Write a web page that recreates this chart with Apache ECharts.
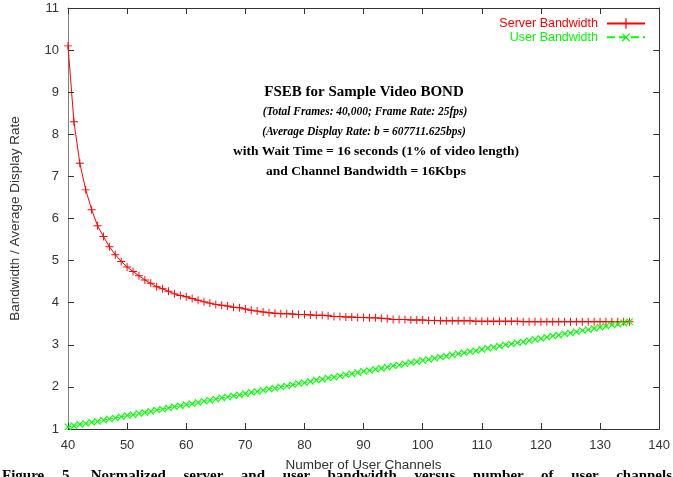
<!DOCTYPE html>
<html>
<head>
<meta charset="utf-8">
<script src="https://cdn.jsdelivr.net/npm/echarts@6/dist/echarts.min.js"></script>
<style>
  html, body { margin: 0; padding: 0; background: #fff; overflow: hidden; }
  #wrap { position: relative; width: 673px; height: 477px; overflow: hidden; }
  #chart { width: 673px; height: 477px; }
  #caption {
    position: absolute; left: 2px; top: 468px; width: 670px;
    font: bold 15px "Liberation Serif", serif; line-height: 15px;
    text-align: justify; text-align-last: justify; white-space: nowrap;
    color: #000;
  }
</style>
</head>
<body>
<div id="wrap">
  <div id="chart"></div>
  <div id="caption">Figure 5. Normalized server and user bandwidth versus number of user channels</div>
</div>
<script>
// number of user channels (x)
const channels = [40, 41, 42, 43, 44, 45, 46, 47, 48, 49, 50, 51, 52, 53, 54, 55, 56, 57, 58, 59,
  60, 61, 62, 63, 64, 65, 66, 67, 68, 69, 70, 71, 72, 73, 74, 75, 76, 77, 78, 79,
  80, 81, 82, 83, 84, 85, 86, 87, 88, 89, 90, 91, 92, 93, 94, 95, 96, 97, 98, 99,
  100, 101, 102, 103, 104, 105, 106, 107, 108, 109, 110, 111, 112, 113, 114, 115, 116, 117, 118, 119,
  120, 121, 122, 123, 124, 125, 126, 127, 128, 129, 130, 131, 132, 133, 134, 135];

// bandwidth / average display rate
const serverBw = [10.10, 8.30, 7.31, 6.68, 6.21, 5.83, 5.57, 5.33, 5.14, 4.98,
  4.85, 4.74, 4.64, 4.54, 4.46, 4.38, 4.33, 4.27, 4.21, 4.17,
  4.14, 4.10, 4.06, 4.02, 3.99, 3.96, 3.94, 3.92, 3.89, 3.88,
  3.85, 3.82, 3.80, 3.78, 3.76, 3.75, 3.74, 3.74, 3.73, 3.72,
  3.72, 3.71, 3.70, 3.70, 3.69, 3.67, 3.67, 3.66, 3.66, 3.65,
  3.65, 3.64, 3.64, 3.63, 3.62, 3.60, 3.60, 3.60, 3.59, 3.59,
  3.59, 3.58, 3.58, 3.57, 3.57, 3.57, 3.57, 3.57, 3.57, 3.56,
  3.56, 3.56, 3.56, 3.56, 3.56, 3.56, 3.56, 3.55, 3.55, 3.55,
  3.55, 3.55, 3.55, 3.55, 3.55, 3.55, 3.55, 3.55, 3.55, 3.55,
  3.55, 3.55, 3.55, 3.55, 3.55, 3.55];

const userBw = [1.05, 1.08, 1.11, 1.13, 1.16, 1.18, 1.21, 1.24, 1.26, 1.29,
  1.32, 1.34, 1.37, 1.39, 1.42, 1.45, 1.47, 1.50, 1.53, 1.55,
  1.58, 1.60, 1.63, 1.66, 1.68, 1.71, 1.74, 1.76, 1.79, 1.81,
  1.84, 1.87, 1.89, 1.92, 1.95, 1.97, 2.00, 2.02, 2.05, 2.08,
  2.10, 2.13, 2.16, 2.18, 2.21, 2.23, 2.26, 2.29, 2.31, 2.34,
  2.37, 2.39, 2.42, 2.44, 2.47, 2.50, 2.52, 2.55, 2.58, 2.60,
  2.63, 2.65, 2.68, 2.71, 2.73, 2.76, 2.79, 2.81, 2.84, 2.86,
  2.89, 2.92, 2.94, 2.97, 3.00, 3.02, 3.05, 3.07, 3.10, 3.13,
  3.15, 3.18, 3.21, 3.23, 3.26, 3.28, 3.31, 3.34, 3.36, 3.39,
  3.42, 3.44, 3.47, 3.49, 3.52, 3.55];

const seriesNames = ['Server Bandwidth', 'User Bandwidth'];

const titleLines = [
  'FSEB for Sample Video BOND',
  '(Total Frames: 40,000; Frame Rate: 25fps)',
  '(Average Display Rate: b = 607711.625bps)',
  'with Wait Time = 16 seconds (1% of video length)',
  'and Channel Bandwidth = 16Kbps'
];

const plus = 'path://M4.4,0h1.2v4.4h4.4v1.2h-4.4v4.4h-1.2v-4.4h-4.4v-1.2h4.4z';
const axisFont = { fontFamily: 'Liberation Sans', fontSize: 13, color: '#333' };

const chart = echarts.init(document.getElementById('chart'));

function frameAxis(pos, min, max, interval, withLabels, lineColor) {
  return {
    type: 'value', position: pos, min: min, max: max, interval: interval,
    axisLine: { show: true, onZero: false, lineStyle: { color: lineColor, width: 1 } },
    axisTick: { show: true, inside: true, length: 6, lineStyle: { color: '#333' } },
    axisLabel: withLabels ? Object.assign({ margin: 9 }, axisFont) : { show: false },
    splitLine: { show: false }
  };
}

const xBottom = frameAxis('bottom', 40, 140, 10, true, '#333');
xBottom.axisLabel.margin = 10;
xBottom.name = 'Number of User Channels';
xBottom.nameLocation = 'middle';
xBottom.nameGap = 29;
xBottom.nameTextStyle = { fontFamily: 'Liberation Sans', fontSize: 13.5, color: '#333' };

const yLeft = frameAxis('left', 1, 11, 1, true, '#808080');
yLeft.name = 'Bandwidth / Average Display Rate';
yLeft.nameLocation = 'middle';
yLeft.nameGap = 46;
yLeft.nameTextStyle = { fontFamily: 'Liberation Sans', fontSize: 13.5, color: '#333' };

const titleY = [92, 112, 132, 152, 172];
const titleX = [364, 365, 364, 376, 366];
const titleFont = [
  'bold 15px "Liberation Serif"',
  'italic bold 11.5px "Liberation Serif"',
  'italic bold 11.5px "Liberation Serif"',
  'bold 13.5px "Liberation Serif"',
  'bold 13.5px "Liberation Serif"'
];

chart.setOption({
  backgroundColor: '#fff',
  animation: false,
  grid: { left: 60, right: 12, top: 8, bottom: 45 },
  xAxis: [xBottom, frameAxis('top', 40, 140, 10, false, '#333')],
  yAxis: [yLeft, frameAxis('right', 1, 11, 1, false, '#333')],
  legend: {
    orient: 'vertical',
    right: 22,
    top: 12,
    align: 'right',
    itemWidth: 38,
    itemHeight: 13,
    itemGap: 0,
    textStyle: { fontFamily: 'Liberation Sans', fontSize: 12.5, padding: [0, 4, 0, 0] },
    data: [
      { name: seriesNames[0], textStyle: { color: '#ff0000' } },
      { name: seriesNames[1], textStyle: { color: '#00ff00' } }
    ]
  },
  graphic: titleLines.map(function (t, i) {
    return {
      type: 'text',
      x: titleX[i],
      y: titleY[i],
      style: { text: t, font: titleFont[i], fill: '#000', textAlign: 'center', textVerticalAlign: 'middle' }
    };
  }),
  series: [
    {
      name: seriesNames[0],
      type: 'line',
      data: channels.map(function (c, i) { return [c, serverBw[i]]; }),
      symbol: plus,
      symbolSize: 8,
      itemStyle: { color: '#ff0000' },
      lineStyle: { color: '#ff0000', width: 1 }
    },
    {
      name: seriesNames[1],
      type: 'line',
      data: channels.map(function (c, i) { return [c, userBw[i]]; }),
      symbol: plus,
      symbolSize: 9,
      symbolRotate: 45,
      itemStyle: { color: '#00ff00' },
      lineStyle: { color: '#00ff00', width: 1, type: 'dashed' }
    }
  ]
});
</script>
</body>
</html>
